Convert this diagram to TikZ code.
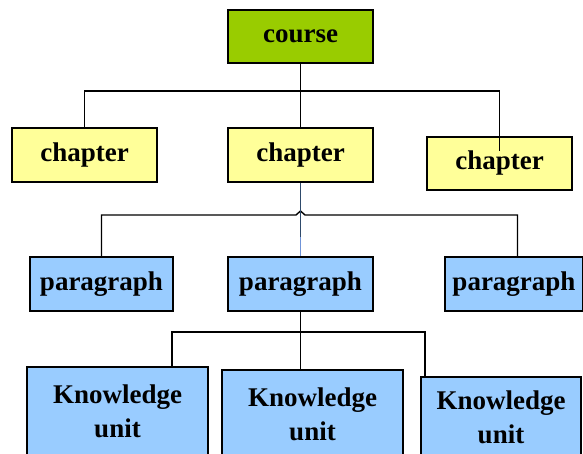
\documentclass[tikz,border=0pt]{standalone}
\usepackage{fontspec}
\setmainfont{Liberation Serif}
\usetikzlibrary{positioning}
\definecolor{coursegreen}{HTML}{99CC00}
\definecolor{chapyellow}{HTML}{FFFF99}
\definecolor{parblue}{HTML}{99CCFF}
\definecolor{linkdark}{HTML}{2E4A6B}
\definecolor{linklight}{HTML}{6F93D8}

\begin{document}
\begin{tikzpicture}[
    x=1pt, y=-1pt,
    box/.style={draw, line width=1.6pt, align=center, inner sep=0pt,
        font=\fontsize{27}{34}\selectfont\bfseries},
    coursebox/.style={box, fill=coursegreen, minimum width=145pt, minimum height=53pt},
    chapbox/.style={box, fill=chapyellow, minimum width=145pt, minimum height=54pt},
    parbox/.style={box, fill=parblue, minimum width=143pt, minimum height=54pt},
    kubox/.style={box, fill=parblue, minimum height=88pt},
    link/.style={draw, line width=1.4pt}
]
    \path[use as bounding box, clip] (0,0) rectangle (583,454);

    \node[coursebox] (course) at (300.5,36.5) {course};

    \node[chapbox] (chl) at (84.5,155) {chapter};
    \node[chapbox] (chm) at (300.5,155) {chapter};
    \node[chapbox, minimum height=53pt] (chr) at (499.5,163.5) {chapter};

    \node[parbox] (parl) at (101.5,284) {paragraph};
    \node[parbox, minimum width=145pt] (parm) at (300.5,284) {paragraph};
    \node[parbox, minimum width=138pt] (parr) at (514,284) {paragraph};

    \node[kubox, minimum width=181pt] (kul) at (117.5,411) {Knowledge\\unit};
    \node[kubox, minimum width=181pt] (kum) at (312.5,414) {Knowledge\\unit};
    \node[kubox, minimum width=160pt, minimum height=80pt] (kur) at (501,417) {Knowledge\\unit};

    % course -> chapters
    \coordinate (bus1) at (300.5,91);
    \draw[link] (course) -- (chm);
    \draw[link] (chl.north) |- (bus1) -| ([yshift=-15pt]chr.north);

    % chapter -> paragraphs
    \coordinate (mid) at (300.5,237);
    \coordinate (hopa) at (296,215);
    \coordinate (hopb) at (300.5,211);
    \coordinate (hopc) at (305,215);
    \draw[link] (parl.north) |- (hopa) -- (hopb) -- (hopc) -| ([xshift=3.5pt]parr.north);
    \draw[line width=1.6pt, linkdark] (chm.south) -- (mid);
    \draw[line width=1.2pt, linklight] (mid) -- (parm.north);

    % paragraph -> knowledge units
    \coordinate (kjl) at (172,332);
    \coordinate (kjr) at (425,332);
    \draw[link] (parm.south) -- (parm.south |- kum.north);
    \draw[link] (kjl |- kul.north) -- (kjl) -- (kjr) -- (kjr |- kur.north);
\end{tikzpicture}
\end{document}
